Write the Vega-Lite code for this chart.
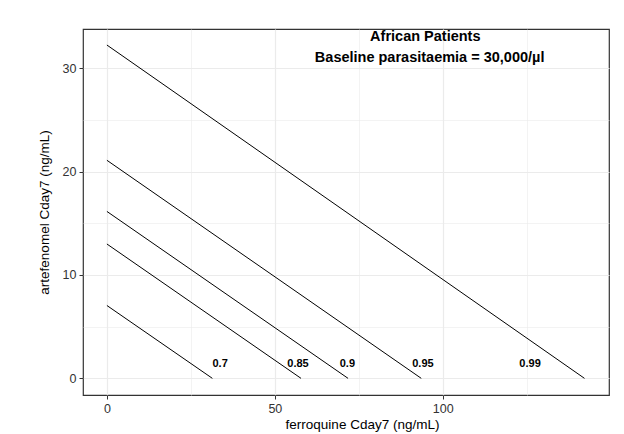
{
  "$schema": "https://vega.github.io/schema/vega-lite/v6.json",
  "width": 526,
  "height": 366,
  "autosize": {"type": "none"},
  "padding": {"left": 83, "top": 29, "right": 15, "bottom": 39},
  "background": "white",
  "config": {
    "font": "Liberation Sans",
    "view": {"stroke": "#333333", "strokeWidth": 1.2}
  },
  "datasets": {
    "lines": [
      {"threshold": "0.7", "ferroquine": 0, "artefenomel": 7.05},
      {"threshold": "0.7", "ferroquine": 31.4, "artefenomel": 0},
      {"threshold": "0.85", "ferroquine": 0, "artefenomel": 13.0},
      {"threshold": "0.85", "ferroquine": 57.8, "artefenomel": 0},
      {"threshold": "0.9", "ferroquine": 0, "artefenomel": 16.15},
      {"threshold": "0.9", "ferroquine": 71.8, "artefenomel": 0},
      {"threshold": "0.95", "ferroquine": 0, "artefenomel": 21.1},
      {"threshold": "0.95", "ferroquine": 93.6, "artefenomel": 0},
      {"threshold": "0.99", "ferroquine": 0, "artefenomel": 32.25},
      {"threshold": "0.99", "ferroquine": 142.2, "artefenomel": 0}
    ],
    "labels": [
      {"label": "0.7", "ferroquine": 33.7, "artefenomel": 1.42},
      {"label": "0.85", "ferroquine": 56.9, "artefenomel": 1.42},
      {"label": "0.9", "ferroquine": 71.6, "artefenomel": 1.42},
      {"label": "0.95", "ferroquine": 94.1, "artefenomel": 1.42},
      {"label": "0.99", "ferroquine": 126.0, "artefenomel": 1.42}
    ],
    "annotations": [
      {"text": "African Patients", "ferroquine": 94.8, "artefenomel": 33.0},
      {"text": "Baseline parasitaemia = 30,000/µl", "ferroquine": 96.1, "artefenomel": 30.97}
    ]
  },
  "layer": [
    {
      "data": {"name": "lines"},
      "mark": {"type": "line", "color": "black", "strokeWidth": 1},
      "encoding": {
        "x": {
          "field": "ferroquine",
          "type": "quantitative",
          "scale": {"domain": [-7.12, 149.5], "nice": false, "zero": false},
          "axis": {
            "values": [0, 25, 50, 75, 100, 125],
            "labelExpr": "datum.value % 50 === 0 ? datum.label : ''",
            "domain": false,
            "grid": true,
            "gridColor": "#ebebeb",
            "gridWidth": {"condition": {"test": "datum.value % 50 !== 0", "value": 0.6}, "value": 1.2},
            "ticks": true,
            "tickColor": "#333333",
            "tickSize": 4,
            "tickWidth": 1,
            "tickOpacity": {"condition": {"test": "datum.value % 50 !== 0", "value": 0}, "value": 1},
            "labelPadding": 3,
            "labelFontSize": 12.5,
            "labelColor": "#333333",
            "title": "ferroquine Cday7 (ng/mL)",
            "titleFontSize": 13.5,
            "titleFontWeight": "normal",
            "titleColor": "#000000",
            "titleX": 279,
            "titleAlign": "center",
            "titlePadding": 3
          }
        },
        "y": {
          "field": "artefenomel",
          "type": "quantitative",
          "scale": {"domain": [-1.61, 33.8], "nice": false, "zero": false},
          "axis": {
            "values": [0, 5, 10, 15, 20, 25, 30],
            "labelExpr": "datum.value % 10 === 0 ? datum.label : ''",
            "domain": false,
            "grid": true,
            "gridColor": "#ebebeb",
            "gridWidth": {"condition": {"test": "datum.value % 10 !== 0", "value": 0.6}, "value": 1.2},
            "ticks": true,
            "tickColor": "#333333",
            "tickSize": 4,
            "tickWidth": 1,
            "tickOpacity": {"condition": {"test": "datum.value % 10 !== 0", "value": 0}, "value": 1},
            "labelPadding": 3,
            "labelFontSize": 12.5,
            "labelColor": "#333333",
            "title": "artefenomel Cday7 (ng/mL)",
            "titleFontSize": 13.5,
            "titleFontWeight": "normal",
            "titleColor": "#000000",
            "titlePadding": 11
          }
        },
        "detail": {"field": "threshold", "type": "nominal"}
      }
    },
    {
      "data": {"name": "labels"},
      "mark": {"type": "text", "fontWeight": "bold", "fontSize": 11, "color": "black", "align": "center", "baseline": "middle"},
      "encoding": {
        "x": {"field": "ferroquine", "type": "quantitative"},
        "y": {"field": "artefenomel", "type": "quantitative"},
        "text": {"field": "label", "type": "nominal"}
      }
    },
    {
      "data": {"name": "annotations"},
      "mark": {"type": "text", "fontWeight": "bold", "fontSize": 14.5, "color": "black", "align": "center", "baseline": "middle"},
      "encoding": {
        "x": {"field": "ferroquine", "type": "quantitative"},
        "y": {"field": "artefenomel", "type": "quantitative"},
        "text": {"field": "text", "type": "nominal"}
      }
    }
  ]
}
